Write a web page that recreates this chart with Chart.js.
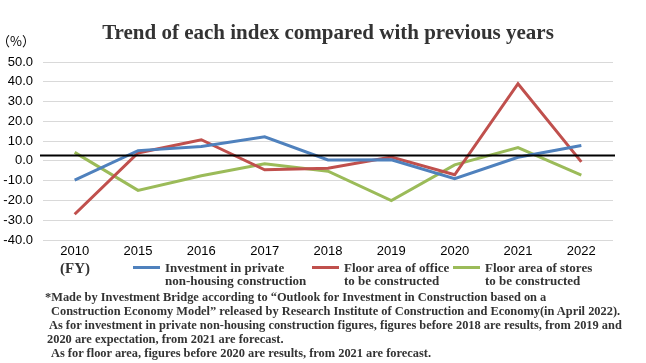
<!DOCTYPE html>
<html>
<head>
<meta charset="utf-8">
<script src="https://cdn.jsdelivr.net/npm/chart.js@4"></script>
<style>
  html, body { margin: 0; padding: 0; background: #fff; }
  #wrap { position: relative; width: 646px; height: 363px; overflow: hidden; }
  #chart { position: absolute; left: 0; top: 0; }
  .txt { position: absolute; white-space: nowrap; font-family: "Liberation Serif", "Times New Roman", serif; font-weight: bold; color: #333; }
  #title { left: 0; width: 656px; text-align: center; top: 20px; font-size: 21px; }
  #unit { left: -3px; top: 31px; font-family: "Noto Sans CJK JP", sans-serif; font-weight: normal; font-size: 13px; color: #000; }
  #fy { left: 60px; top: 260px; font-size: 15px; }
  .leg { position: absolute; top: 261px; font-size: 13px; line-height: 13px; }
  .leg i { position: absolute; left: 0; top: 5px; width: 27px; height: 3px; }
  .leg span { position: absolute; left: 32px; top: 0; white-space: nowrap; }
  .note { font-size: 12.4px; line-height: 14px; }
</style>
</head>
<body>
<div id="wrap">
  <canvas id="chart" width="646" height="363"></canvas>
  <div class="txt" id="title">Trend of each index compared with previous years</div>
  <div class="txt" id="unit">（%）</div>
  <div class="txt" id="fy">(FY)</div>
  <div class="txt leg" id="leg0" style="left:133px"><i></i><span></span></div>
  <div class="txt leg" id="leg1" style="left:312px"><i></i><span></span></div>
  <div class="txt leg" id="leg2" style="left:453px"><i></i><span></span></div>
  <div class="txt note" style="left:45px; top:290px">*Made by Investment Bridge according to “Outlook for Investment in Construction based on a</div>
  <div class="txt note" style="left:51px; top:304px">Construction Economy Model” released by Research Institute of Construction and Economy(in April 2022).</div>
  <div class="txt note" style="left:49px; top:318px">As for investment in private non-housing construction figures, figures before 2018 are results, from 2019 and</div>
  <div class="txt note" style="left:47px; top:332px">2020 are expectation, from 2021 are forecast.</div>
  <div class="txt note" style="left:51px; top:346px">As for floor area, figures before 2020 are results, from 2021 are forecast.</div>
</div>
<script>
// ========== DATA ==========
const years = ['2010', '2015', '2016', '2017', '2018', '2019', '2020', '2021', '2022'];
const seriesNames = [
    ['Investment in private', 'non-housing construction'],
    ['Floor area of office', 'to be constructed'],
    ['Floor area of stores', 'to be constructed']
];
const investment = [-9.7, 5.2, 7.3, 12.2, 0.5, 0.6, -9.0, 1.8, 7.8];
const officeArea = [-27.0, 4.0, 10.7, -4.5, -3.7, 2.0, -7.0, 39.0, -0.5];
const storeArea = [4.3, -14.9, -7.5, -1.4, -5.2, -20.1, -2.0, 6.7, -7.2];
const yTicks = [50, 40, 30, 20, 10, 0, -10, -20, -30, -40];
const baseLine = 2.7;
const colors = ['#4F81BD', '#C0504D', '#9BBB59'];

// ========== LEGEND ==========
seriesNames.forEach((name, i) => {
    const el = document.getElementById('leg' + i);
    el.querySelector('i').style.background = colors[i];
    el.querySelector('span').innerHTML = name.join('<br>');
});

// black reference line across the plot
const baseLinePlugin = {
    id: 'baseLine',
    afterDatasetsDraw(chart) {
        const { ctx, chartArea, scales } = chart;
        const y = scales.y.getPixelForValue(baseLine);
        ctx.save();
        ctx.strokeStyle = '#000';
        ctx.lineWidth = 2;
        ctx.beginPath();
        ctx.moveTo(chartArea.left - 3, y);
        ctx.lineTo(chartArea.right + 2, y);
        ctx.stroke();
        ctx.restore();
    }
};

// ========== CHART ==========
const ctx = document.getElementById('chart').getContext('2d');
new Chart(ctx, {
    type: 'line',
    data: {
        labels: years,
        datasets: [investment, officeArea, storeArea].map((d, i) => ({
            label: seriesNames[i].join(' '),
            data: d,
            borderColor: colors[i],
            backgroundColor: colors[i],
            borderWidth: 3,
            pointRadius: 0,
            tension: 0
        }))
    },
    options: {
        responsive: false,
        animation: false,
        layout: { padding: { top: 62, right: 33, bottom: 101, left: 0 } },
        plugins: {
            legend: { display: false },
            tooltip: { enabled: false }
        },
        scales: {
            x: {
                offset: true,
                grid: { display: false, drawTicks: false },
                border: { display: false },
                ticks: {
                    color: '#000',
                    font: { family: 'Liberation Sans', size: 13 },
                    padding: 4,
                    maxRotation: 0
                },
                afterFit: s => { s.height = 22; }
            },
            y: {
                min: -40,
                max: 50,
                afterBuildTicks: s => { s.ticks = yTicks.map(v => ({ value: v })); },
                grid: { color: '#d9d9d9', lineWidth: 1, drawTicks: false },
                border: { display: false },
                ticks: {
                    color: '#000',
                    font: { family: 'Liberation Sans', size: 13 },
                    padding: 10,
                    callback: v => v.toFixed(1)
                },
                afterFit: s => { s.width = 43; }
            }
        }
    },
    plugins: [baseLinePlugin]
});
</script>
</body>
</html>
